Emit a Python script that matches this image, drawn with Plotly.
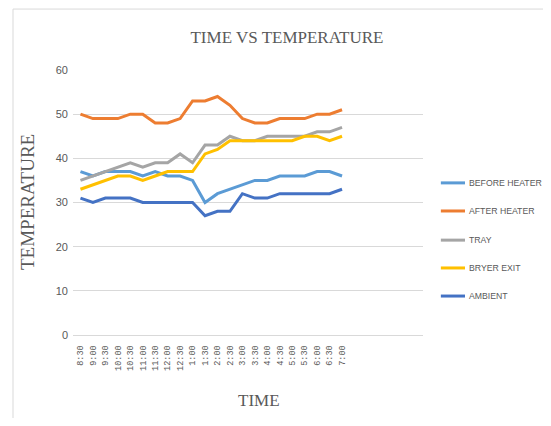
import plotly.graph_objects as go

times = ["8:30", "9:00", "9:30", "10:00", "10:30", "11:00", "11:30", "12:00",
         "12:30", "1:00", "1:30", "2:00", "2:30", "3:00", "3:30", "4:00",
         "4:30", "5:00", "5:30", "6:00", "6:30", "7:00"]

before_heater = [37, 36, 37, 37, 37, 36, 37, 36, 36, 35, 30, 32,
                 33, 34, 35, 35, 36, 36, 36, 37, 37, 36]
after_heater = [50, 49, 49, 49, 50, 50, 48, 48, 49, 53, 53, 54,
                52, 49, 48, 48, 49, 49, 49, 50, 50, 51]
tray = [35, 36, 37, 38, 39, 38, 39, 39, 41, 39, 43, 43,
        45, 44, 44, 45, 45, 45, 45, 46, 46, 47]
bryer_exit = [33, 34, 35, 36, 36, 35, 36, 37, 37, 37, 41, 42,
              44, 44, 44, 44, 44, 44, 45, 45, 44, 45]
ambient = [31, 30, 31, 31, 31, 30, 30, 30, 30, 30, 27, 28,
           28, 32, 31, 31, 32, 32, 32, 32, 32, 33]

series = [
    ("BEFORE HEATER", before_heater, "#5B9BD5"),
    ("AFTER HEATER", after_heater, "#ED7D31"),
    ("TRAY", tray, "#A5A5A5"),
    ("BRYER EXIT", bryer_exit, "#FFC000"),
    ("AMBIENT", ambient, "#4472C4"),
]

grey = "#595959"
grid = "#D9D9D9"

fig = go.Figure()
for name, vals, color in series:
    fig.add_trace(go.Scatter(
        x=times, y=vals, name=name, mode="lines",
        line=dict(color=color, width=3),
    ))

# the page body has an 8px margin all round, so the figure is sized to fit inside it
fig.update_layout(
    width=535, height=410,
    margin=dict(l=65, r=120, t=62, b=83),
    plot_bgcolor="white", paper_bgcolor="white",
    title=dict(text="TIME VS TEMPERATURE", xref="container", x=0.5215,
               y=1 - 29 / 410, xanchor="center", yanchor="middle",
               font=dict(family="Liberation Serif", size=17, color=grey)),
    showlegend=False,
)

fig.update_xaxes(
    type="category", range=[-0.6, 27.5], tickangle=-90,
    tickfont=dict(family="Liberation Mono", size=8.5, color=grey),
    showgrid=False, showline=True, linecolor=grid, linewidth=1,
    ticks="", ticklabelstandoff=6,
)
fig.update_yaxes(
    range=[0, 60], dtick=10, showgrid=True, gridcolor=grid, gridwidth=1,
    zeroline=True, zerolinecolor=grid, zerolinewidth=1,
    tickfont=dict(family="Liberation Sans", size=11, color=grey),
    ticklabelstandoff=4,
)

# legend drawn by hand so it does not squeeze the plot area
legend_y = [0.574, 0.468, 0.358, 0.253, 0.147]
for (name, vals, color), ly in zip(series, legend_y):
    fig.add_shape(type="line", xref="paper", yref="paper",
                  x0=1.051, x1=1.12, y0=ly, y1=ly,
                  line=dict(color=color, width=3))
    fig.add_annotation(text=name, xref="paper", yref="paper",
                       x=1.126, y=ly, xanchor="left", yanchor="middle",
                       showarrow=False,
                       font=dict(family="Liberation Sans", size=8.7, color=grey))

# axis titles
fig.add_annotation(text="TEMPERATURE", xref="paper", yref="paper",
                   x=-0.13, y=0.50, xanchor="center", yanchor="middle",
                   textangle=-90, showarrow=False,
                   font=dict(family="Liberation Serif", size=19, color=grey))
fig.add_annotation(text="TIME", xref="paper", yref="paper",
                   x=0.53, y=-0.246, xanchor="center", yanchor="middle",
                   showarrow=False,
                   font=dict(family="Liberation Serif", size=17, color=grey))

# chart border
fig.add_shape(type="rect", xref="paper", yref="paper",
              x0=-0.1714, x1=1.45, y0=-0.4, y1=1.23,
              line=dict(color=grid, width=1))

fig.write_html("out.html")
